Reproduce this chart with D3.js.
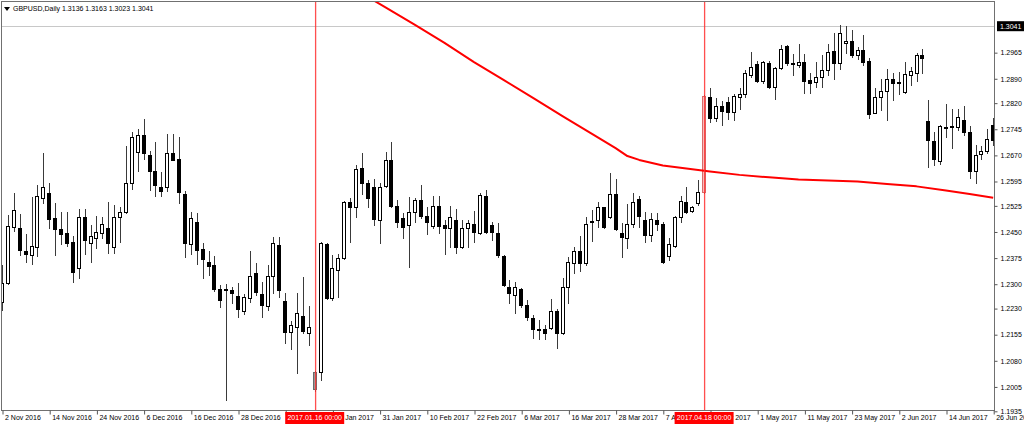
<!DOCTYPE html>
<html>
<head>
<meta charset="utf-8">
<script src="https://cdn.jsdelivr.net/npm/d3@7"></script>
<style>
  html, body { margin: 0; padding: 0; background: #ffffff; }
  svg { display: block; }
  text { font-family: "Liberation Sans", Arial, sans-serif; }
</style>
</head>
<body>
<svg id="chart" width="1024" height="426"></svg>
<script>
// ---------------- DATA ----------------
const symbolTitle = "GBPUSD,Daily";
const titleOHLC = [1.3136, 1.3163, 1.3023, 1.3041];
const currentPrice = 1.3041;

const dates = [
  "2016.11.02","2016.11.03","2016.11.04","2016.11.07","2016.11.08","2016.11.09","2016.11.10","2016.11.11","2016.11.14","2016.11.15","2016.11.16","2016.11.17","2016.11.18","2016.11.21","2016.11.22","2016.11.23","2016.11.24","2016.11.25","2016.11.28","2016.11.29","2016.11.30",
  "2016.12.01","2016.12.02","2016.12.05","2016.12.06","2016.12.07","2016.12.08","2016.12.09","2016.12.12","2016.12.13","2016.12.14","2016.12.15","2016.12.16","2016.12.19","2016.12.20","2016.12.21","2016.12.22","2016.12.23","2016.12.26","2016.12.27","2016.12.28","2016.12.29","2016.12.30",
  "2017.01.02","2017.01.03","2017.01.04","2017.01.05","2017.01.06","2017.01.09","2017.01.10","2017.01.11","2017.01.12","2017.01.13","2017.01.16","2017.01.17","2017.01.18","2017.01.19","2017.01.20","2017.01.23","2017.01.24","2017.01.25","2017.01.26","2017.01.27","2017.01.30","2017.01.31",
  "2017.02.01","2017.02.02","2017.02.03","2017.02.06","2017.02.07","2017.02.08","2017.02.09","2017.02.10","2017.02.13","2017.02.14","2017.02.15","2017.02.16","2017.02.17","2017.02.20","2017.02.21","2017.02.22","2017.02.23","2017.02.24","2017.02.27","2017.02.28",
  "2017.03.01","2017.03.02","2017.03.03","2017.03.06","2017.03.07","2017.03.08","2017.03.09","2017.03.10","2017.03.13","2017.03.14","2017.03.15","2017.03.16","2017.03.17","2017.03.20","2017.03.21","2017.03.22","2017.03.23","2017.03.24","2017.03.27","2017.03.28","2017.03.29","2017.03.30","2017.03.31",
  "2017.04.03","2017.04.04","2017.04.05","2017.04.06","2017.04.07","2017.04.10","2017.04.11","2017.04.12","2017.04.13","2017.04.14","2017.04.17","2017.04.18","2017.04.19","2017.04.20","2017.04.21","2017.04.24","2017.04.25","2017.04.26","2017.04.27","2017.04.28",
  "2017.05.01","2017.05.02","2017.05.03","2017.05.04","2017.05.05","2017.05.08","2017.05.09","2017.05.10","2017.05.11","2017.05.12","2017.05.15","2017.05.16","2017.05.17","2017.05.18","2017.05.19","2017.05.22","2017.05.23","2017.05.24","2017.05.25","2017.05.26","2017.05.29","2017.05.30","2017.05.31",
  "2017.06.01","2017.06.02","2017.06.05","2017.06.06","2017.06.07","2017.06.08","2017.06.09","2017.06.12","2017.06.13","2017.06.14","2017.06.15","2017.06.16","2017.06.19","2017.06.20","2017.06.21","2017.06.22","2017.06.23","2017.06.26"
];

const opens = [
  1.2249,1.2304,1.2465,1.2462,1.2396,1.2384,1.2408,1.2548,1.2563,1.2491,1.2459,1.2448,1.2421,1.2347,1.2493,1.2418,1.2432,1.2448,1.2462,1.2408,
  1.2493,1.2506,1.2592,1.2680,1.2729,1.2671,1.2625,1.2579,1.2580,1.2678,1.2660,1.2559,1.2416,1.2479,1.2401,1.2364,1.2355,1.2286,1.2286,1.2282,
  1.2266,1.2224,1.2260,1.2331,1.2272,1.2236,1.2324,1.2413,1.2253,1.2164,1.2178,1.2209,1.2159,1.2049,1.2049,1.2416,1.2260,1.2341,1.2375,1.2537,
  1.2521,1.2633,1.2592,1.2580,1.2483,1.2582,1.2657,1.2525,1.2489,1.2470,1.2508,1.2542,1.2496,1.2468,1.2525,1.2470,1.2461,1.2485,1.2406,1.2461,
  1.2473,1.2446,1.2554,1.2470,1.2446,1.2381,1.2293,1.2269,1.2285,1.2240,1.2202,1.2171,1.2171,1.2173,1.2224,1.2159,1.2291,1.2362,1.2394,1.2360,
  1.2482,1.2483,1.2521,1.2492,1.2558,1.2446,1.2432,1.2473,1.2545,1.2485,1.2442,1.2485,1.2473,1.2381,1.2410,1.2494,1.2537,1.2511,1.2532,1.2565,
  1.2839,1.2777,1.2812,1.2824,1.2796,1.2839,1.2846,1.2901,1.2933,1.2885,1.2935,1.2866,1.2920,1.2984,1.2936,1.2930,1.2937,1.2887,1.2882,1.2894,
  1.2915,1.2970,1.2935,1.2992,1.2999,1.2958,1.2973,1.2942,1.2793,1.2837,1.2856,1.2889,1.2882,1.2853,1.2901,1.2906,1.2958,1.2770,1.2712,1.2655,
  1.2749,1.2752,1.2751,1.2772,1.2738,1.2626,1.2674,1.2684,1.2757
];
const highs = [
  1.2355,1.2499,1.2562,1.2502,1.2444,1.2551,1.2585,1.2677,1.2592,1.2533,1.2506,1.2508,1.2439,1.2516,1.2516,1.2470,1.2496,1.2494,1.2536,1.2528,
  1.2522,1.2697,1.2738,1.2746,1.2775,1.2684,1.2709,1.2623,1.2732,1.2732,1.2724,1.2569,1.2506,1.2505,1.2419,1.2394,1.2382,1.2298,1.2301,1.2291,
  1.2303,1.2271,1.2394,1.2360,1.2307,1.2355,1.2435,1.2435,1.2276,1.2195,1.2276,1.2320,1.2238,1.2051,1.2420,1.2419,1.2384,1.2386,1.2539,1.2547,
  1.2642,1.2676,1.2599,1.2601,1.2590,1.2681,1.2709,1.2542,1.2504,1.2550,1.2547,1.2585,1.2523,1.2552,1.2552,1.2485,1.2526,1.2515,1.2483,1.2483,
  1.2511,1.2563,1.2571,1.2480,1.2475,1.2384,1.2312,1.2306,1.2289,1.2255,1.2212,1.2197,1.2183,1.2257,1.2228,1.2317,1.2379,1.2408,1.2439,1.2494,
  1.2513,1.2537,1.2523,1.2619,1.2601,1.2475,1.2530,1.2561,1.2552,1.2508,1.2504,1.2504,1.2480,1.2432,1.2496,1.2552,1.2579,1.2525,1.2599,1.2843,
  1.2863,1.2834,1.2827,1.2839,1.2846,1.2863,1.2915,1.2966,1.2942,1.2942,1.2942,1.2925,1.2987,1.2987,1.2961,1.2990,1.2960,1.2906,1.2939,1.2958,
  1.2990,1.3021,1.3045,1.3042,1.3030,1.2982,1.3016,1.2949,1.2863,1.2889,1.2917,1.2906,1.2910,1.2939,1.2925,1.2965,1.2975,1.2829,1.2738,1.2757,
  1.2818,1.2802,1.2802,1.2812,1.2754,1.2700,1.2697,1.2746,1.2777
];
const lows = [
  1.2226,1.2301,1.2453,1.2384,1.2364,1.2358,1.2382,1.2533,1.2462,1.2384,1.2416,1.2410,1.2307,1.2318,1.2387,1.2365,1.2405,1.2432,1.2390,1.2391,
  1.2422,1.2505,1.2574,1.2625,1.2660,1.2571,1.2552,1.2554,1.2569,1.2657,1.2533,1.2379,1.2387,1.2358,1.2318,1.2327,1.2281,1.2234,1.1968,1.2245,
  1.2205,1.2215,1.2250,1.2269,1.2205,1.2226,1.2276,1.2264,1.2130,1.2113,1.2044,1.2159,1.2126,1.1993,1.2025,1.2258,1.2255,1.2264,1.2372,1.2422,
  1.2494,1.2559,1.2521,1.2470,1.2418,1.2580,1.2523,1.2464,1.2432,1.2350,1.2480,1.2489,1.2443,1.2462,1.2446,1.2386,1.2408,1.2391,1.2403,1.2406,
  1.2422,1.2444,1.2448,1.2427,1.2379,1.2295,1.2245,1.2218,1.2234,1.2197,1.2145,1.2142,1.2142,1.2171,1.2116,1.2157,1.2245,1.2331,1.2339,1.2355,
  1.2425,1.2465,1.2461,1.2489,1.2456,1.2379,1.2403,1.2465,1.2465,1.2422,1.2425,1.2456,1.2362,1.2370,1.2408,1.2480,1.2504,1.2506,1.2528,1.2562,
  1.2767,1.2770,1.2757,1.2774,1.2772,1.2802,1.2837,1.2894,1.2882,1.2877,1.2863,1.2831,1.2917,1.2930,1.2901,1.2925,1.2848,1.2848,1.2867,1.2867,
  1.2901,1.2889,1.2917,1.2965,1.2952,1.2946,1.2930,1.2777,1.2791,1.2800,1.2772,1.2829,1.2846,1.2850,1.2872,1.2885,1.2908,1.2638,1.2642,1.2645,
  1.2724,1.2690,1.2743,1.2729,1.2604,1.2592,1.2660,1.2677,1.2700
];
const closes = [
  1.2304,1.2467,1.2513,1.2398,1.2387,1.2410,1.2554,1.2579,1.2487,1.2459,1.2444,1.2419,1.2336,1.2493,1.2427,1.2439,1.2451,1.2473,1.2418,1.2494,
  1.2508,1.2591,1.2723,1.2729,1.2677,1.2626,1.2585,1.2569,1.2677,1.2657,1.2566,1.2419,1.2490,1.2398,1.2373,1.2353,1.2285,1.2255,1.2283,1.2274,
  1.2229,1.2262,1.2325,1.2279,1.2240,1.2325,1.2418,1.2283,1.2164,1.2183,1.2217,1.2167,1.2176,1.1998,1.2418,1.2260,1.2346,1.2375,1.2537,1.2523,
  1.2630,1.2592,1.2547,1.2487,1.2578,1.2657,1.2525,1.2480,1.2465,1.2508,1.2542,1.2496,1.2480,1.2526,1.2468,1.2461,1.2492,1.2406,1.2461,1.2475,
  1.2451,1.2556,1.2451,1.2451,1.2384,1.2298,1.2276,1.2293,1.2240,1.2205,1.2171,1.2169,1.2161,1.2223,1.2159,1.2291,1.2363,1.2394,1.2362,1.2473,
  1.2479,1.2521,1.2464,1.2559,1.2459,1.2435,1.2473,1.2537,1.2496,1.2442,1.2487,1.2473,1.2365,1.2416,1.2494,1.2540,1.2506,1.2521,1.2566,1.2841,
  1.2777,1.2812,1.2798,1.2796,1.2841,1.2846,1.2906,1.2925,1.2885,1.2939,1.2866,1.2920,1.2975,1.2935,1.2932,1.2937,1.2885,1.2877,1.2894,1.2915,
  1.2968,1.2936,1.3021,1.2999,1.2958,1.2973,1.2939,1.2789,1.2837,1.2856,1.2889,1.2877,1.2878,1.2904,1.2913,1.2958,1.2951,1.2714,1.2659,1.2754,
  1.2752,1.2754,1.2779,1.2738,1.2626,1.2671,1.2684,1.2716,1.2714
];

// 200-period moving average
const maDates = ["2017.01.25","2017.02.01","2017.02.08","2017.02.15","2017.02.22","2017.03.01","2017.03.08","2017.03.15","2017.03.22","2017.03.28","2017.03.30","2017.04.03","2017.04.07","2017.04.13","2017.04.19","2017.04.26","2017.05.03","2017.05.10","2017.05.17","2017.05.24","2017.05.31","2017.06.07","2017.06.14","2017.06.20","2017.06.26"];
const maValues = [1.3145,1.3095,1.3045,1.2993,1.2938,1.2887,1.2835,1.2783,1.2732,1.2691,1.2668,1.2657,1.2641,1.2632,1.2624,1.2614,1.2607,1.2601,1.2598,1.2595,1.2588,1.2581,1.2569,1.2559,1.2548];

const tickDates = ["2016.11.02","2016.11.14","2016.11.24","2016.12.06","2016.12.16","2016.12.28","2017.01.09","2017.01.19","2017.01.31","2017.02.10","2017.02.22","2017.03.06","2017.03.16","2017.03.28","2017.04.07","2017.04.19","2017.05.01","2017.05.11","2017.05.23","2017.06.02","2017.06.14","2017.06.26"];
const tickLabels = ["2 Nov 2016","14 Nov 2016","24 Nov 2016","6 Dec 2016","16 Dec 2016","28 Dec 2016","9 Jan 2017","19 Jan 2017","31 Jan 2017","10 Feb 2017","22 Feb 2017","6 Mar 2017","16 Mar 2017","28 Mar 2017","7 Apr 2017","19 Apr 2017","1 May 2017","11 May 2017","23 May 2017","2 Jun 2017","14 Jun 2017","26 Jun 2017"];

const priceTicks = [1.2965,1.2890,1.2820,1.2745,1.2670,1.2595,1.2525,1.2450,1.2375,1.2300,1.2230,1.2155,1.2080,1.2005,1.1935];

const vlineDates = ["2017.01.16","2017.04.18"];
const vlineLabels = ["2017.01.16 00:00","2017.04.18 00:00"];

// ---------------- LAYOUT ----------------
const plot = { left: 1, right: 994, top: 1, bottom: 410 };

const svg = d3.select("#chart");

const x = d3.scalePoint().domain(dates).range([2, 993.2]);
const y = d3.scaleLinear().domain([1.1935, 1.3041]).range([411.3, 26.2]);

const candles = dates.map((d, i) => ({ date: d, o: opens[i], h: highs[i], l: lows[i], c: closes[i] }));

svg.append("defs").append("clipPath").attr("id", "plotClip")
  .append("rect").attr("x", plot.left + 0.5).attr("y", plot.top)
  .attr("width", plot.right - plot.left - 0.5).attr("height", plot.bottom - plot.top);

const g = svg.append("g").attr("clip-path", "url(#plotClip)");

// current price line
g.append("line")
  .attr("x1", plot.left).attr("x2", plot.right)
  .attr("y1", Math.round(y(currentPrice)) + 0.5).attr("y2", Math.round(y(currentPrice)) + 0.5)
  .attr("stroke", "#c8c8c8").attr("stroke-width", 1);

// candles
const cg = g.append("g");
candles.forEach(d => {
  const px = Math.round(x(d.date));
  const yH = Math.round(y(d.h)), yL = Math.round(y(d.l));
  const yO = Math.round(y(d.o)), yC = Math.round(y(d.c));
  const top = Math.min(yO, yC), bot = Math.max(yO, yC);
  const bull = d.c >= d.o;
  const hl = vlineDates.indexOf(d.date);
  let fill = bull ? "#ffffff" : "#000000", stroke = "#000";
  if (hl === 0) { fill = "#9a9a9a"; stroke = "#6a6a6a"; }
  if (hl === 1) { fill = "#f7c4c4"; stroke = "#d86a6a"; }
  cg.append("line")
    .attr("x1", px + 0.5).attr("x2", px + 0.5)
    .attr("y1", yH).attr("y2", yL + 1)
    .attr("stroke", "#3a3a3a").attr("stroke-width", 1);
  if (bot - top < 1) {
    cg.append("line")
      .attr("x1", px - 2).attr("x2", px + 3)
      .attr("y1", top + 0.5).attr("y2", top + 0.5)
      .attr("stroke", "#000").attr("stroke-width", 1);
  } else {
    cg.append("rect")
      .attr("x", px - 1.5).attr("y", top + 0.5)
      .attr("width", 3).attr("height", bot - top)
      .attr("fill", fill).attr("stroke", stroke).attr("stroke-width", 1);
  }
});

// moving average
const maLine = d3.line().x(d => x(d[0])).y(d => y(d[1]));
g.append("path")
  .datum(maDates.map((d, i) => [d, maValues[i]]))
  .attr("d", maLine)
  .attr("fill", "none").attr("stroke", "#ff0000").attr("stroke-width", 2)
  .attr("stroke-linejoin", "round");

// vertical lines
vlineDates.forEach(d => {
  const px = Math.round(x(d)) + 0.6;
  g.append("line")
    .attr("x1", px).attr("x2", px).attr("y1", plot.top).attr("y2", plot.bottom)
    .attr("stroke", "#ff3030").attr("stroke-width", 1.3).attr("stroke-opacity", 0.85);
});

// frame
svg.append("rect")
  .attr("x", plot.left + 0.5).attr("y", plot.top + 0.5)
  .attr("width", plot.right - plot.left).attr("height", plot.bottom - plot.top)
  .attr("fill", "none").attr("stroke", "#707070").attr("stroke-width", 1);

// bottom axis
const xAxis = d3.axisBottom(x)
  .tickValues(tickDates)
  .tickFormat((d) => tickLabels[tickDates.indexOf(d)])
  .tickSize(4).tickPadding(0);
const xa = svg.append("g").attr("transform", `translate(0.5,${plot.bottom + 0.5})`).call(xAxis);
xa.select(".domain").remove();
xa.selectAll(".tick line").attr("stroke", "#555");
xa.selectAll(".tick text")
  .attr("text-anchor", "start").attr("x", 2).attr("y", 4).attr("dy", "0.75em")
  .attr("font-size", "7px").attr("font-family", "Liberation Sans, Arial, sans-serif").attr("fill", "#000");

// right axis
const yAxis = d3.axisRight(y).tickValues(priceTicks).tickFormat(d3.format(".4f")).tickSize(3).tickPadding(3);
const ya = svg.append("g").attr("transform", `translate(${plot.right + 0.5},0)`).call(yAxis);
ya.select(".domain").remove();
ya.selectAll(".tick line").attr("stroke", "#555");
ya.selectAll(".tick text").attr("font-size", "7px").attr("font-family", "Liberation Sans, Arial, sans-serif").attr("fill", "#000");

// current price label
const cpY = y(currentPrice);
svg.append("rect").attr("x", plot.right + 3).attr("y", cpY - 5).attr("width", 27).attr("height", 10).attr("fill", "#000");
svg.append("text").attr("x", plot.right + 6).attr("y", cpY).attr("dy", "0.35em")
  .attr("font-size", "7px").attr("fill", "#fff").text(d3.format(".4f")(currentPrice));

// vertical line labels on the time axis
vlineDates.forEach((d, i) => {
  const px = x(d);
  const tw = 59;
  svg.append("rect").attr("x", px - tw / 2).attr("y", plot.bottom + 2).attr("width", tw).attr("height", 12).attr("fill", "#ff0000");
  svg.append("text").attr("x", px).attr("y", plot.bottom + 8).attr("dy", "0.35em")
    .attr("text-anchor", "middle").attr("font-size", "7px").attr("fill", "#fff").text(vlineLabels[i]);
});

// title
svg.append("path").attr("d", "M4,7 L10,7 L7,11 Z").attr("fill", "#000");
svg.append("text").attr("x", 13).attr("y", 11)
  .attr("font-size", "7px").attr("fill", "#000")
  .text(symbolTitle + "  " + titleOHLC.map(d3.format(".4f")).join(" "));
</script>
</body>
</html>
